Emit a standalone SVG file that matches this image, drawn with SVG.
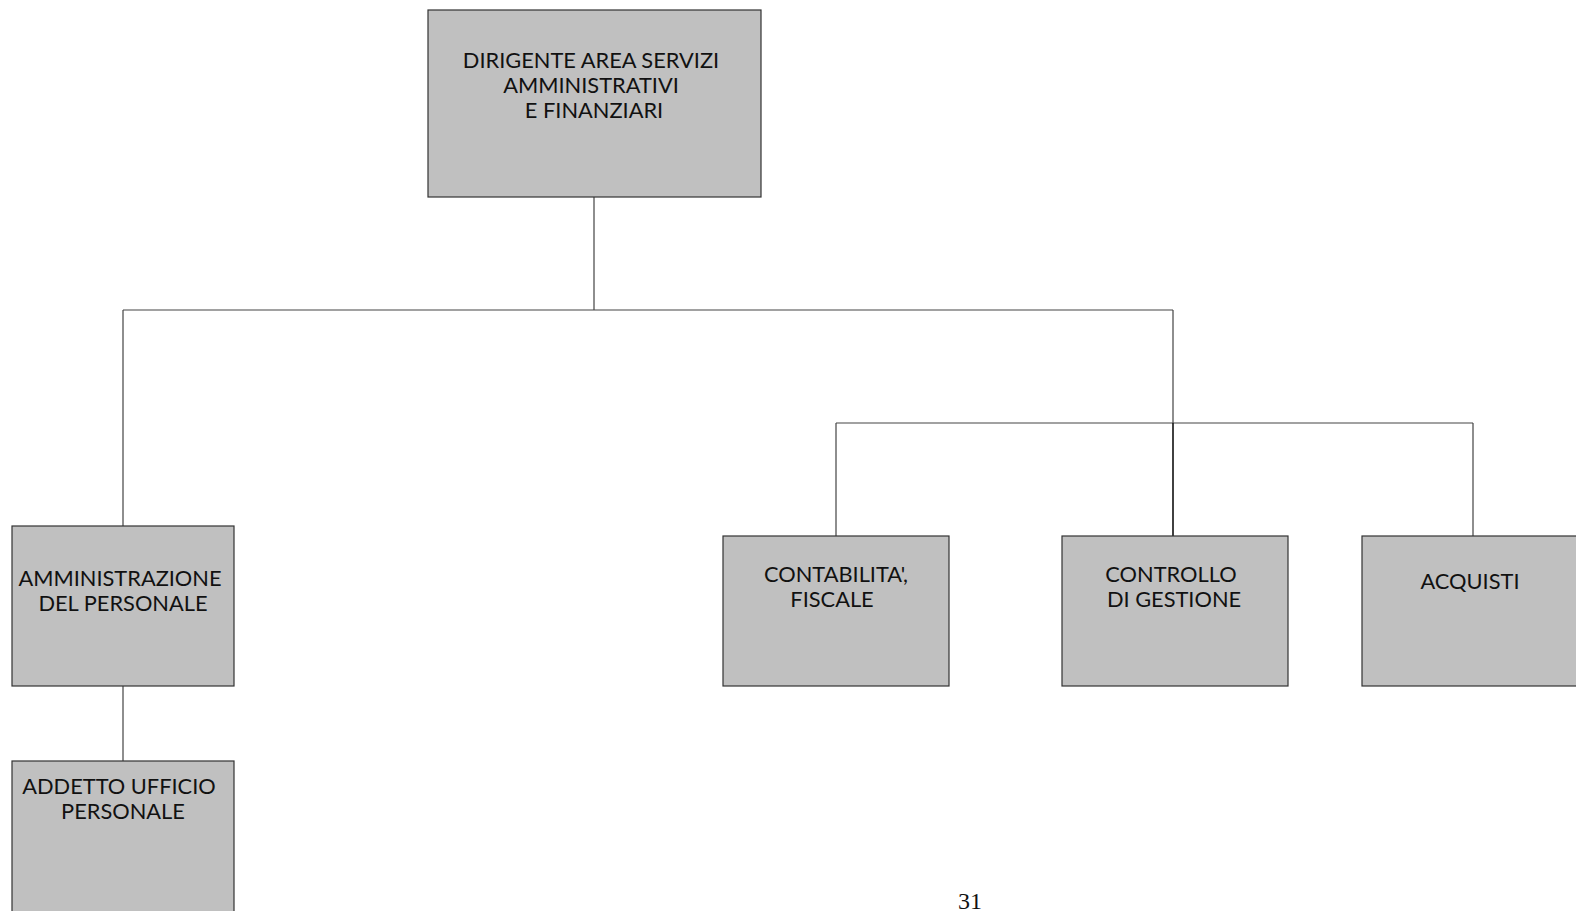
<svg xmlns="http://www.w3.org/2000/svg" width="1576" height="911" viewBox="0 0 1576 911">
<style>
.box{fill:#c0c0c0;stroke:#333;stroke-width:1.2}
.t{font-family:Lato,"Open Sans",sans-serif;font-size:21.8px;fill:#111;text-anchor:middle}
.c{fill:none;stroke:#444;stroke-width:1.2}
</style>
<rect width="1576" height="911" fill="#fff"/>
<g id="connectors">
<path class="c" d="M594 197V310M123 310H1173M123 310V526M1173 310V423M836 423H1473M836 423V536M1473 423V536M123 686V761"/>
<path class="c" d="M1173 423V536" style="stroke:#111;stroke-width:1.6"/>
</g>
<g id="n-dirigente">
<rect class="box" x="428" y="10" width="333" height="187"/>
<text class="t"><tspan x="591" y="68">DIRIGENTE AREA SERVIZI</tspan><tspan x="591" y="93">AMMINISTRATIVI</tspan><tspan x="594" y="118">E FINANZIARI</tspan></text>
</g>
<g id="n-amministrazione">
<rect class="box" x="12" y="526" width="222" height="160"/>
<text class="t"><tspan x="120" y="586">AMMINISTRAZIONE</tspan><tspan x="123" y="611">DEL PERSONALE</tspan></text>
</g>
<g id="n-addetto">
<rect class="box" x="12" y="761" width="222" height="160"/>
<text class="t"><tspan x="119" y="794">ADDETTO UFFICIO</tspan><tspan x="123" y="819">PERSONALE</tspan></text>
</g>
<g id="n-contabilita">
<rect class="box" x="723" y="536" width="226" height="150"/>
<text class="t"><tspan x="836" y="582">CONTABILITA',</tspan><tspan x="832" y="607">FISCALE</tspan></text>
</g>
<g id="n-controllo">
<rect class="box" x="1062" y="536" width="226" height="150"/>
<text class="t"><tspan x="1171" y="582">CONTROLLO</tspan><tspan x="1174" y="607">DI GESTIONE</tspan></text>
</g>
<g id="n-acquisti">
<rect class="box" x="1362" y="536" width="226" height="150"/>
<text class="t"><tspan x="1470" y="589">ACQUISTI</tspan></text>
</g>
<text x="970" y="909" font-family="'Liberation Serif',serif" font-size="24" fill="#111" text-anchor="middle">31</text>
</svg>
